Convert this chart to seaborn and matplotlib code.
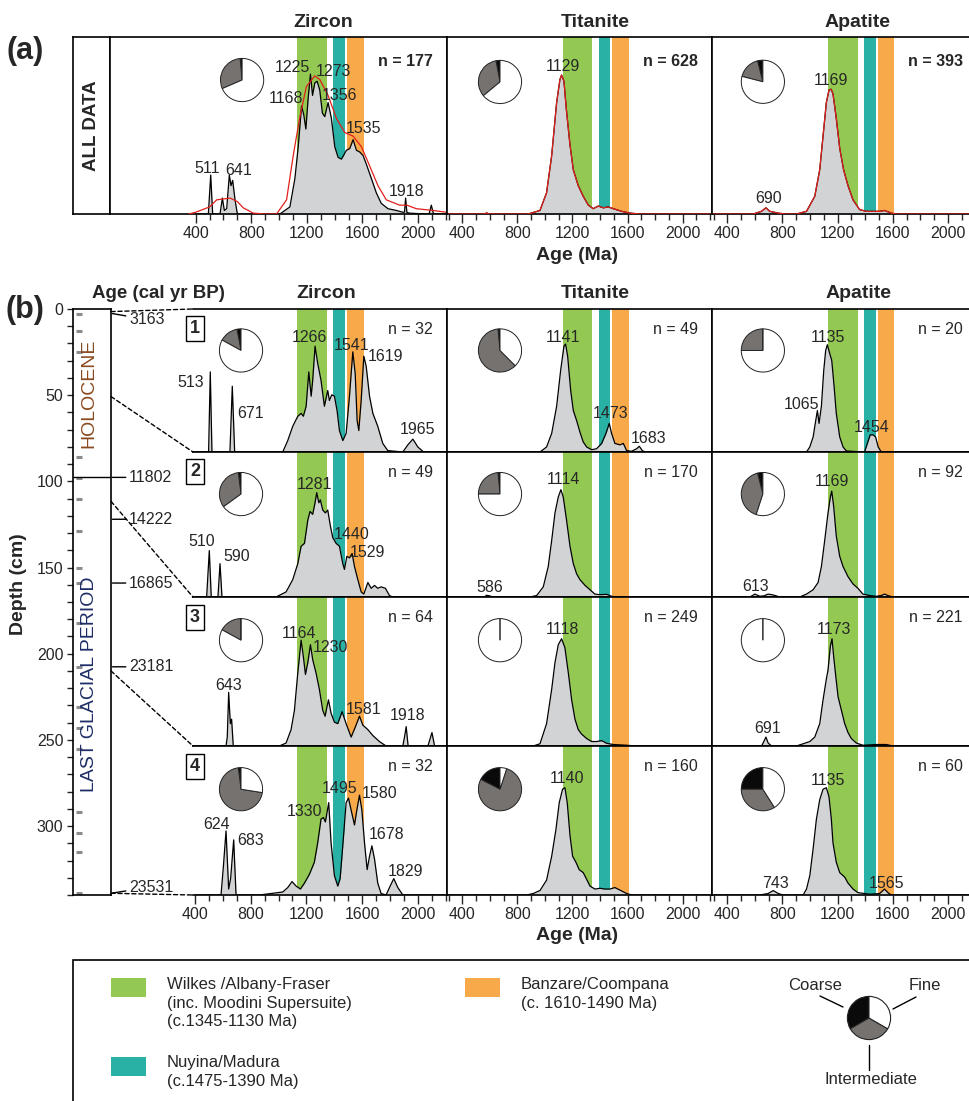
import numpy as np
import matplotlib
matplotlib.use("Agg")
import matplotlib.pyplot as plt
from matplotlib.patches import ConnectionPatch, Rectangle
from matplotlib.lines import Line2D
import seaborn as sns

# ---------------- data ----------------
# probability density curves: age (Ma) and height as fraction of the panel
zr_all_age = [400, 491, 508, 522, 575, 592, 606, 623, 642, 654,
              666, 683, 700, 1006, 1078, 1114, 1138, 1162, 1178, 1193,
              1209, 1226, 1241, 1257, 1274, 1293, 1312, 1329, 1353, 1377,
              1401, 1425, 1449, 1485, 1509, 1533, 1557, 1581, 1605, 1629,
              1665, 1700, 1736, 1784, 1844, 1892, 1903, 1911, 1920, 1935,
              2060, 2080, 2096, 2112, 2200]
zr_all_den = [0, 0, 0.22, 0, 0, 0.09, 0.02, 0.03, 0.22, 0.16,
              0.19, 0.08, 0, 0, 0.04, 0.20, 0.38, 0.61, 0.56, 0.48,
              0.65, 0.79, 0.67, 0.74, 0.75, 0.70, 0.57, 0.55, 0.63, 0.54,
              0.38, 0.32, 0.31, 0.36, 0.37, 0.42, 0.36, 0.35, 0.33, 0.28,
              0.20, 0.12, 0.06, 0.03, 0.02, 0.01, 0.01, 0.09, 0.01, 0.005,
              0, 0, 0.05, 0, 0]
zr_all_red_age = [350, 400, 500, 551, 600, 647, 700, 742, 814, 900,
                  982, 1054, 1102, 1150, 1197, 1257, 1293, 1353, 1413, 1473,
                  1533, 1593, 1653, 1712, 1772, 1868, 1920, 1988, 2108, 2203]
zr_all_red_den = [0, 0.01, 0.04, 0.08, 0.085, 0.09, 0.07, 0.035, 0.005, 0,
                  0, 0.08, 0.33, 0.55, 0.72, 0.78, 0.76, 0.67, 0.54, 0.46,
                  0.44, 0.38, 0.27, 0.16, 0.08, 0.05, 0.05, 0.03, 0.02, 0.01]
ti_all_age = [300, 560, 577, 595, 879, 964, 1012, 1049, 1085, 1109,
              1121, 1138, 1157, 1182, 1206, 1242, 1278, 1315, 1351, 1387,
              1424, 1460, 1496, 1557, 1617, 1690, 2200]
ti_all_den = [0, 0, 0.006, 0, 0, 0.02, 0.12, 0.33, 0.63, 0.76,
              0.785, 0.75, 0.58, 0.39, 0.25, 0.16, 0.10, 0.05, 0.03, 0.045,
              0.035, 0.04, 0.03, 0.015, 0.005, 0, 0]
ap_all_age = [300, 588, 648, 680, 708, 769, 820, 901, 974, 1034,
              1070, 1094, 1118, 1137, 1152, 1166, 1190, 1215, 1243, 1275,
              1311, 1359, 1407, 1456, 1504, 1540, 1588, 1624, 2200]
ap_all_den = [0, 0, 0.015, 0.035, 0.015, 0.005, 0, 0, 0.015, 0.10,
              0.25, 0.44, 0.63, 0.70, 0.705, 0.68, 0.54, 0.37, 0.25, 0.16,
              0.08, 0.025, 0.015, 0.015, 0.015, 0.02, 0.005, 0, 0]

zr1_age = [400, 479, 498, 510, 522, 651, 668, 685, 1030, 1066,
           1102, 1138, 1162, 1178, 1198, 1217, 1234, 1245, 1262, 1281,
           1305, 1329, 1353, 1365, 1382, 1401, 1420, 1437, 1461, 1485,
           1509, 1533, 1550, 1564, 1576, 1593, 1612, 1629, 1653, 1677,
           1712, 1748, 1784, 1892, 1928, 1964, 2000, 2041, 2200]
zr1_den = [0, 0, 0, 0.56, 0, 0, 0.46, 0, 0, 0.08,
           0.18, 0.25, 0.27, 0.25, 0.32, 0.56, 0.39, 0.50, 0.74, 0.62,
           0.50, 0.32, 0.43, 0.36, 0.40, 0.39, 0.29, 0.15, 0.08, 0.13,
           0.39, 0.70, 0.55, 0.22, 0.15, 0.36, 0.67, 0.60, 0.39, 0.27,
           0.18, 0.06, 0.01, 0, 0.05, 0.09, 0.035, 0, 0]
zr2_age = [400, 484, 503, 517, 565, 580, 594, 982, 1054, 1102,
           1138, 1162, 1186, 1210, 1226, 1245, 1262, 1274, 1289, 1300,
           1317, 1336, 1353, 1372, 1389, 1413, 1437, 1461, 1473, 1490,
           1509, 1528, 1545, 1569, 1593, 1612, 1641, 1665, 1689, 1712,
           1736, 1767, 1796, 1820, 2200]
zr2_den = [0, 0, 0.32, 0, 0, 0.23, 0, 0, 0.035, 0.12,
           0.23, 0.35, 0.37, 0.53, 0.59, 0.57, 0.65, 0.72, 0.65, 0.67,
           0.60, 0.58, 0.60, 0.49, 0.41, 0.37, 0.35, 0.23, 0.19, 0.28,
           0.27, 0.30, 0.21, 0.12, 0.035, 0.02, 0.10, 0.06, 0.08, 0.06,
           0.07, 0.06, 0.01, 0, 0]
zr3_age = [400, 623, 632, 642, 654, 663, 675, 1006, 1054, 1090,
           1114, 1138, 1162, 1178, 1193, 1210, 1229, 1245, 1269, 1293,
           1317, 1334, 1358, 1377, 1401, 1425, 1456, 1485, 1521, 1552,
           1581, 1605, 1641, 1677, 1724, 1772, 1892, 1904, 1916, 1930,
           2072, 2101, 2120, 2200]
zr3_den = [0, 0, 0.06, 0.36, 0.15, 0.18, 0, 0, 0.02, 0.11,
           0.24, 0.49, 0.71, 0.60, 0.48, 0.56, 0.68, 0.58, 0.49, 0.38,
           0.24, 0.20, 0.31, 0.22, 0.16, 0.15, 0.23, 0.15, 0.06, 0.13,
           0.20, 0.14, 0.11, 0.07, 0.03, 0, 0, 0.06, 0.13, 0,
           0, 0.09, 0, 0]
zr4_age = [400, 587, 604, 623, 642, 656, 678, 695, 862, 1030,
           1066, 1097, 1126, 1157, 1186, 1222, 1257, 1281, 1305, 1322,
           1336, 1360, 1377, 1401, 1425, 1442, 1461, 1485, 1502, 1521,
           1545, 1562, 1581, 1598, 1617, 1636, 1653, 1670, 1689, 1712,
           1736, 1772, 1796, 1827, 1856, 1892, 2200]
zr4_den = [0, 0, 0.19, 0.43, 0.04, 0.11, 0.37, 0, 0, 0.02,
           0.05, 0.09, 0.06, 0.04, 0.08, 0.14, 0.22, 0.35, 0.51, 0.52,
           0.49, 0.62, 0.35, 0.13, 0.06, 0.11, 0.33, 0.62, 0.65, 0.57,
           0.47, 0.57, 0.67, 0.57, 0.35, 0.17, 0.26, 0.33, 0.24, 0.08,
           0.01, 0, 0.05, 0.11, 0.05, 0, 0]

ti1_age = [300, 964, 1012, 1049, 1085, 1114, 1138, 1150, 1165, 1187,
           1206, 1230, 1254, 1278, 1303, 1339, 1375, 1412, 1443, 1467,
           1484, 1508, 1545, 1569, 1593, 1629, 1666, 1685, 1709, 1738,
           2200]
ti1_den = [0, 0, 0.035, 0.13, 0.32, 0.57, 0.74, 0.755, 0.67, 0.43,
           0.29, 0.22, 0.14, 0.07, 0.035, 0.016, 0.023, 0.06, 0.13, 0.20,
           0.13, 0.06, 0.05, 0.06, 0.01, 0.005, 0.023, 0.04, 0.007, 0,
           0]
ti2_age = [300, 560, 577, 601, 620, 891, 940, 988, 1024, 1049,
           1073, 1097, 1116, 1133, 1157, 1182, 1206, 1230, 1254, 1291,
           1327, 1363, 1399, 1448, 1484, 1520, 2200]
ti2_den = [0, 0, 0.012, 0.007, 0, 0, 0.01, 0.07, 0.21, 0.39,
           0.58, 0.69, 0.74, 0.69, 0.53, 0.35, 0.23, 0.16, 0.12, 0.08,
           0.05, 0.02, 0.016, 0.018, 0.005, 0, 0]
ti3_age = [300, 915, 964, 1012, 1049, 1073, 1097, 1121, 1145, 1170,
           1194, 1218, 1242, 1266, 1303, 1339, 1375, 1412, 1448, 1496,
           1593, 1666, 2200]
ti3_den = [0, 0, 0.015, 0.15, 0.38, 0.56, 0.68, 0.72, 0.66, 0.49,
           0.31, 0.18, 0.11, 0.08, 0.05, 0.03, 0.03, 0.036, 0.018, 0.01,
           0.005, 0, 0]
ti4_age = [300, 867, 915, 964, 1012, 1049, 1080, 1104, 1128, 1145,
           1162, 1182, 1201, 1225, 1249, 1278, 1303, 1327, 1363, 1399,
           1436, 1472, 1508, 1557, 1593, 1630, 2200]
ti4_den = [0, 0, 0.01, 0.03, 0.10, 0.26, 0.44, 0.62, 0.71, 0.72,
           0.62, 0.40, 0.26, 0.22, 0.17, 0.15, 0.105, 0.06, 0.04, 0.045,
           0.04, 0.04, 0.05, 0.027, 0.01, 0, 0]

ap1_age = [300, 974, 998, 1022, 1041, 1053, 1065, 1082, 1099, 1113,
           1125, 1142, 1157, 1174, 1190, 1215, 1239, 1263, 1395, 1415,
           1436, 1456, 1475, 1494, 1516, 2200]
ap1_den = [0, 0, 0.035, 0.105, 0.22, 0.29, 0.20, 0.32, 0.57, 0.71,
           0.75, 0.69, 0.64, 0.46, 0.27, 0.105, 0.035, 0.007, 0, 0.06,
           0.12, 0.12, 0.105, 0.035, 0, 0]
ap2_age = [300, 564, 600, 636, 666, 696, 733, 781, 925, 974,
           1022, 1058, 1082, 1106, 1130, 1147, 1157, 1171, 1190, 1215,
           1239, 1275, 1311, 1347, 1383, 1432, 1480, 1516, 1540, 1564,
           1600, 2200]
ap2_den = [0, 0, 0.02, 0.005, 0.008, 0.02, 0.014, 0, 0, 0.02,
           0.05, 0.10, 0.21, 0.39, 0.58, 0.69, 0.73, 0.625, 0.42, 0.28,
           0.21, 0.14, 0.09, 0.06, 0.02, 0.01, 0.005, 0.01, 0.02, 0.01,
           0, 0]
ap3_age = [300, 648, 665, 680, 696, 721, 901, 950, 998, 1034,
           1070, 1094, 1118, 1130, 1147, 1159, 1171, 1186, 1203, 1227,
           1251, 1275, 1299, 1335, 1383, 1480, 1552, 1600, 2200]
ap3_den = [0, 0, 0.03, 0.06, 0.02, 0, 0, 0.015, 0.03, 0.06,
           0.15, 0.31, 0.45, 0.51, 0.67, 0.72, 0.60, 0.47, 0.33, 0.24,
           0.15, 0.09, 0.05, 0.02, 0.005, 0.01, 0.01, 0, 0]
ap4_age = [300, 636, 696, 733, 769, 805, 950, 974, 998, 1022,
           1046, 1070, 1094, 1118, 1137, 1154, 1166, 1190, 1215, 1251,
           1275, 1311, 1347, 1432, 1504, 1540, 1564, 1588, 2200]
ap4_den = [0, 0, 0.01, 0.03, 0.01, 0, 0, 0.04, 0.13, 0.31,
           0.51, 0.64, 0.71, 0.72, 0.66, 0.51, 0.35, 0.22, 0.15, 0.12,
           0.08, 0.04, 0.016, 0.005, 0.01, 0.04, 0.016, 0, 0]

# peak labels: (text, age, height)
zr_all_peaks = [("511", 479, 0.233), ("641", 707, 0.22), ("1225", 1095, 0.805),
                ("1273", 1389, 0.778), ("1168", 1049, 0.627), ("1356", 1437, 0.646),
                ("1535", 1605, 0.456), ("1918", 1916, 0.10)]
ti_all_peaks = [("1129", 1133, 0.81)]
ap_all_peaks = [("1169", 1154, 0.73), ("690", 696, 0.06)]
zr1_peaks = [("513", 366, 0.452), ("671", 802, 0.241), ("1266", 1221, 0.766),
             ("1541", 1521, 0.714), ("1619", 1765, 0.637), ("1965", 2000, 0.129)]
zr2_peaks = [("510", 448, 0.354), ("590", 702, 0.25), ("1281", 1257, 0.745),
             ("1440", 1521, 0.398), ("1529", 1641, 0.278)]
zr3_peaks = [("643", 640, 0.379), ("1164", 1150, 0.722), ("1230", 1370, 0.632),
             ("1581", 1612, 0.217), ("1918", 1926, 0.176)]
zr4_peaks = [("624", 556, 0.445), ("683", 802, 0.336), ("1330", 1183, 0.53),
             ("1495", 1437, 0.682), ("1580", 1724, 0.649), ("1678", 1772, 0.374),
             ("1829", 1911, 0.128)]
ti1_peaks = [("1141", 1131, 0.766), ("1473", 1477, 0.241), ("1683", 1750, 0.066)]
ti2_peaks = [("1114", 1131, 0.782), ("586", 603, 0.035)]
ti3_peaks = [("1118", 1128, 0.752)]
ti4_peaks = [("1140", 1162, 0.754)]
ap1_peaks = [("1135", 1128, 0.766), ("1065", 935, 0.304), ("1454", 1444, 0.14)]
ap2_peaks = [("1169", 1157, 0.764), ("613", 607, 0.042)]
ap3_peaks = [("1173", 1171, 0.752), ("691", 692, 0.086)]
ap4_peaks = [("1135", 1128, 0.736), ("743", 752, 0.049), ("1565", 1557, 0.049)]

# grain size fractions: coarse, intermediate, fine
zr_all_pie = [0.015, 0.30, 0.685]
ti_all_pie = [0.03, 0.33, 0.64]
ap_all_pie = [0.04, 0.17, 0.79]
zr_pies = [[0.03, 0.14, 0.83], [0.02, 0.33, 0.65], [0.0, 0.17, 0.83], [0.02, 0.705, 0.275]]
ti_pies = [[0.015, 0.61, 0.375], [0.015, 0.235, 0.75], [0.0, 0.0, 1.0], [0.175, 0.775, 0.05]]
ap_pies = [[0.0, 0.25, 0.75], [0.04, 0.41, 0.55], [0.0, 0.0, 1.0], [0.25, 0.34, 0.41]]

n_all = [177, 628, 393]
zr_n = [32, 49, 64, 32]
ti_n = [49, 170, 249, 160]
ap_n = [20, 92, 221, 60]

# source regions (Ma)
band_names = ["Wilkes /Albany-Fraser\n(inc. Moodini Supersuite)\n(c.1345-1130 Ma)",
              "Nuyina/Madura\n(c.1475-1390 Ma)",
              "Banzare/Coompana\n(c. 1610-1490 Ma)"]
band_lo = [1130, 1390, 1490]
band_hi = [1345, 1475, 1610]

# core
depth_ticks = [0, 50, 100, 150, 200, 250, 300]
sample_depths = [3, 13, 25, 86, 98, 110, 129, 150, 159, 182, 208, 231, 243, 255, 292, 304, 315, 339]
cal_ages = [3163, 11802, 14222, 16865, 23181, 23531]
cal_depths = [2.5, 97.7, 122, 159, 207.6, 339]
boundary_depth = 97.7
link_depths = [1.5, 50.8, 111.6, 210, 339]

# ---------------- styling ----------------
sns.set_style("white")
plt.rcParams["font.family"] = ["Liberation Sans", "DejaVu Sans"]
plt.rcParams["axes.linewidth"] = 1.2

band_colors = ["#93C952", "#2AB1A6", "#F8A94A"]
FILL = "#D1D3D4"
PIE_COLORS = ["#0a0a0a", "#767270", "white"]
FS = 11.5

W, H = 970, 1101
fig = plt.figure(figsize=(W / 100, H / 100), dpi=100)


def fx(x):
    return x / W


def fy(y):
    return 1 - y / H


def box(x0, y0, x1, y1):
    return [x0 / W, 1 - y1 / H, (x1 - x0) / W, (y1 - y0) / H]


def draw_pie(pax, fracs, lw=0.7):
    wedges, _ = pax.pie(fracs, colors=PIE_COLORS, startangle=90, counterclock=True,
                        wedgeprops=dict(edgecolor="#222222", linewidth=lw))
    # keep the outline of empty slices visible on top of the full slice
    for w, f in zip(wedges, fracs):
        if f == 0:
            w.set_zorder(5)


def panel(rect, xlim, ages, dens, peaks, pie, n, ticks=False, bold_n=False,
          red=None, pie_x=0.2, pie_y=0.71, minor_from=300, no_left=False):
    ax = fig.add_axes(box(*rect))
    wpx, hpx = rect[2] - rect[0], rect[3] - rect[1]
    for lo, hi, c in zip(band_lo, band_hi, band_colors):
        ax.axvspan(lo, hi, color=c, lw=0, zorder=0)
    ax.fill_between(ages, dens, color=FILL, lw=0, zorder=1)
    sns.lineplot(x=ages, y=dens, ax=ax, color="black", lw=0.9,
                 estimator=None, sort=False, zorder=2)
    if red is not None:
        sns.lineplot(x=red[0], y=red[1], ax=ax, color="#E0201B", lw=0.9,
                     estimator=None, sort=False, zorder=3)
    ax.set_xlim(*xlim)
    ax.set_ylim(0, 1)
    ax.set_xlabel("")
    ax.set_ylabel("")
    ax.set_yticks([])
    for s in ax.spines.values():
        s.set_color("black")
        s.set_linewidth(1.2)
    if no_left:
        ax.spines["left"].set_visible(False)
    if ticks:
        ax.set_xticks([400, 800, 1200, 1600, 2000])
        ax.set_xticks(np.arange(minor_from, 2201, 100), minor=True)
        ax.tick_params(axis="x", which="major", bottom=True, direction="out",
                       length=6.5, width=1, labelsize=FS, pad=2)
        ax.tick_params(axis="x", which="minor", bottom=True, direction="out",
                       length=4, width=1)
    else:
        ax.set_xticks([])
    for txt, x, y in peaks:
        ax.text(x, y, txt, ha="center", va="baseline", fontsize=FS, zorder=5)
    ax.text(1 - 14 / wpx, 0.86, f"n = {n}", transform=ax.transAxes, ha="right",
            va="center", fontsize=FS, fontweight="bold" if bold_n else "normal")
    r = 27
    pax = ax.inset_axes([pie_x - r / wpx, pie_y - r / hpx, 2 * r / wpx, 2 * r / hpx])
    draw_pie(pax, pie)
    return ax


# ---------- (a) all data ----------
TOP_A, BOT_A = 37, 214
ax_lab = fig.add_axes(box(73, TOP_A, 110, BOT_A))
ax_lab.set_xticks([])
ax_lab.set_yticks([])
for s in ax_lab.spines.values():
    s.set_color("black")
    s.set_linewidth(1.2)
ax_lab.text(0.5, 0.5, "ALL DATA", rotation=90, ha="center", va="center",
            fontsize=13.5, fontweight="bold", transform=ax_lab.transAxes)

panel((110, TOP_A, 447, BOT_A), (-217, 2209), zr_all_age, zr_all_den, zr_all_peaks,
      zr_all_pie, n_all[0], ticks=True, bold_n=True,
      red=(zr_all_red_age, zr_all_red_den), pie_x=0.392, pie_y=0.757, minor_from=400)
panel((447, TOP_A, 712, BOT_A), (289, 2213), ti_all_age, ti_all_den, ti_all_peaks,
      ti_all_pie, n_all[1], ticks=True, bold_n=True,
      red=(ti_all_age, ti_all_den), pie_x=0.2, pie_y=0.746)
panel((712, TOP_A, 977, BOT_A), (289, 2210), ap_all_age, ap_all_den, ap_all_peaks,
      ap_all_pie, n_all[2], ticks=True, bold_n=True,
      red=(ap_all_age, ap_all_den), pie_x=0.192, pie_y=0.747)

# ---------- (b) core samples ----------
row_edges = [309, 452, 597, 746, 895]
zr_rows = [(zr1_age, zr1_den, zr1_peaks), (zr2_age, zr2_den, zr2_peaks),
           (zr3_age, zr3_den, zr3_peaks), (zr4_age, zr4_den, zr4_peaks)]
ti_rows = [(ti1_age, ti1_den, ti1_peaks), (ti2_age, ti2_den, ti2_peaks),
           (ti3_age, ti3_den, ti3_peaks), (ti4_age, ti4_den, ti4_peaks)]
ap_rows = [(ap1_age, ap1_den, ap1_peaks), (ap2_age, ap2_den, ap2_peaks),
           (ap3_age, ap3_den, ap3_peaks), (ap4_age, ap4_den, ap4_peaks)]

zr_axes = []
for i in range(4):
    top, bot = row_edges[i], row_edges[i + 1]
    last = i == 3
    axz = panel((193, top, 447, bot), (386, 2209), *zr_rows[i], zr_pies[i], zr_n[i],
                ticks=last, pie_x=0.189, minor_from=400, no_left=True)
    axz.text(400, 0.865, str(i + 1), ha="center", va="center", fontsize=13,
             fontweight="bold", zorder=6,
             bbox=dict(boxstyle="square,pad=0.22", fc="white", ec="black", lw=1))
    zr_axes.append(axz)
    panel((447, top, 712, bot), (289, 2213), *ti_rows[i], ti_pies[i], ti_n[i],
          ticks=last, pie_x=0.2)
    panel((712, top, 977, bot), (289, 2210), *ap_rows[i], ap_pies[i], ap_n[i],
          ticks=last, pie_x=0.192)

# depth column
axd = fig.add_axes(box(73, 309, 111, 895))
axd.set_ylim(340, 0)
axd.set_xlim(0, 1)
axd.set_xticks([])
axd.set_yticks(depth_ticks)
axd.set_yticks(np.arange(0, 341, 10), minor=True)
axd.tick_params(axis="y", which="both", left=True, direction="out", length=4,
                width=1, labelsize=FS, pad=3)
for s in axd.spines.values():
    s.set_color("black")
    s.set_linewidth(1.2)
axd.hlines(sample_depths, 0.07, 0.23, color="#8C8C8C", lw=2.2)
axd.axhline(boundary_depth, color="black", lw=1)
axd.text(0.42, 49, "HOLOCENE", rotation=90, ha="center", va="center",
         color="#8A4A1F", fontsize=14)
axd.text(0.43, 218, "LAST GLACIAL PERIOD", rotation=90, ha="center", va="center",
         color="#1E2D66", fontsize=14)

ytr = axd.get_yaxis_transform()
label_dy = [-4.5, 0, 0, 0, 0, 4.5]
for age, d, dy in zip(cal_ages, cal_depths, label_dy):
    axd.annotate(str(age), xy=(1, d), xycoords=ytr, xytext=(13, dy),
                 textcoords="offset points", ha="left", va="center", fontsize=FS,
                 annotation_clip=False,
                 arrowprops=dict(arrowstyle="-", lw=1, color="black", shrinkA=0, shrinkB=1))

targets = [(zr_axes[0], 1)] + [(a, 0) for a in zr_axes]
for d, (a, yb) in zip(link_depths, targets):
    con = ConnectionPatch(xyA=(1, d), coordsA=ytr, xyB=(0, yb), coordsB=a.transAxes,
                          linestyle=(0, (3, 2)), lw=1, color="black")
    fig.add_artist(con)

# ---------- figure texts ----------
fig.text(fx(25), fy(51), "(a)", ha="center", va="center", fontsize=22, fontweight="bold")
fig.text(fx(25), fy(310), "(b)", ha="center", va="center", fontsize=22, fontweight="bold")
for name, x in zip(["Zircon", "Titanite", "Apatite"], [323, 595, 858]):
    fig.text(fx(x), fy(22.5), name, ha="center", va="center", fontsize=14, fontweight="bold")
for name, x in zip(["Zircon", "Titanite", "Apatite"], [326, 595, 859]):
    fig.text(fx(x), fy(294), name, ha="center", va="center", fontsize=14, fontweight="bold")
fig.text(fx(577), fy(255), "Age (Ma)", ha="center", va="center", fontsize=14, fontweight="bold")
fig.text(fx(577), fy(936), "Age (Ma)", ha="center", va="center", fontsize=14, fontweight="bold")
fig.text(fx(158), fy(294), "Age (cal yr BP)", ha="center", va="center", fontsize=13.5,
         fontweight="bold")
fig.text(fx(18.5), fy(584), "Depth (cm)", ha="center", va="center", rotation=90,
         fontsize=14, fontweight="bold")

# ---------- legend ----------
fig.add_artist(Rectangle((fx(73), fy(1130)), fx(1000) - fx(73), fy(960) - fy(1130),
                         transform=fig.transFigure, fill=False, ec="black", lw=1.2))
sq = [(111, 978), (111, 1057), (465, 978)]
tx = [(167, 977), (167, 1055), (521, 977)]
for (x, y), (tx_, ty), c, name in zip(sq, tx, band_colors, band_names):
    fig.add_artist(Rectangle((fx(x), fy(y + 19)), fx(35), 19 / H,
                             transform=fig.transFigure, fc=c, ec="none"))
    fig.text(fx(tx_), fy(ty), name, ha="left", va="top", fontsize=12, linespacing=1.3)

lpax = fig.add_axes(box(842, 991, 896, 1045))
draw_pie(lpax, [1, 1, 1], lw=0.8)
for (x0, y0), (x1, y1) in [((843, 1007), (820, 996)), ((893, 1009), (916, 997)),
                           ((869, 1045), (869, 1070))]:
    fig.add_artist(Line2D([fx(x0), fx(x1)], [fy(y0), fy(y1)], color="black", lw=1,
                          transform=fig.transFigure))
fig.text(fx(815), fy(986), "Coarse", ha="center", va="center", fontsize=12)
fig.text(fx(925), fy(986), "Fine", ha="center", va="center", fontsize=12)
fig.text(fx(871), fy(1080), "Intermediate", ha="center", va="center", fontsize=12)

fig.savefig("out.png", dpi=100)
